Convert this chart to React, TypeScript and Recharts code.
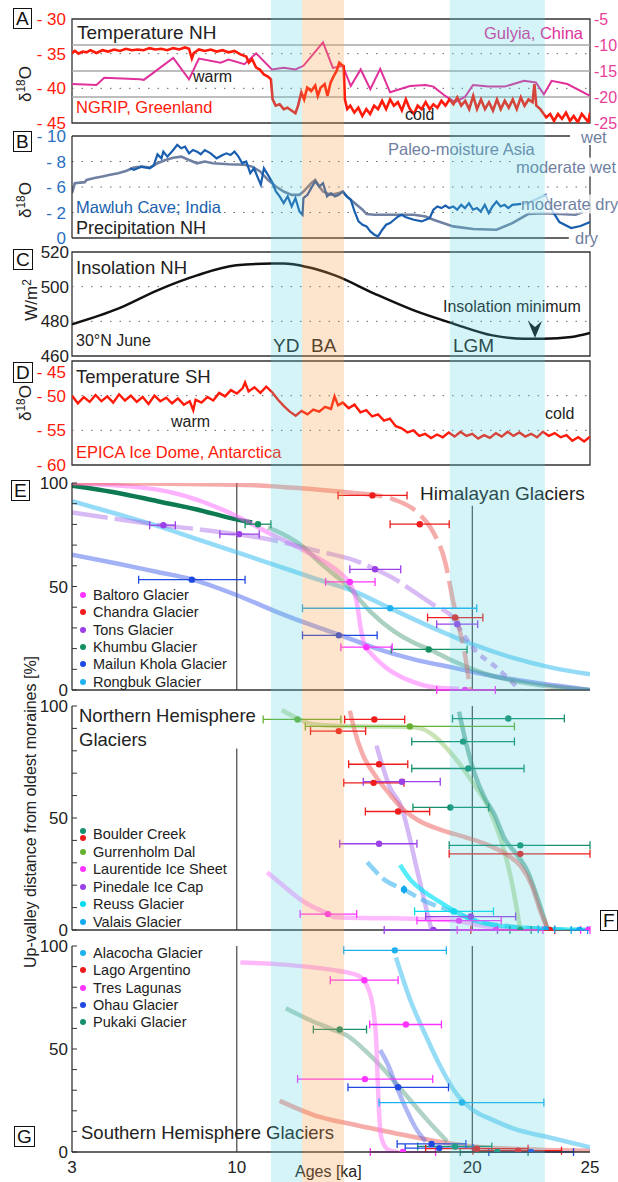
import React from 'react';
import {
  ComposedChart,
  Line,
  Scatter,
  ErrorBar,
  XAxis,
  YAxis,
  ReferenceLine,
  ReferenceArea,
} from 'recharts';

type Pt = [number, number];
type EPt = [number, number, number, number]; // age, value, age low, age high

const FONT = '"Liberation Sans", Arial, Helvetica, sans-serif';
const W = 618;
const LEFT = 72;
const RIGHT = 28;
const X_DOMAIN: [number, number] = [3, 25];
const X_TICKS = [3, 10, 20, 25];
const PCT_TICKS = [0, 10, 20, 30, 40, 50, 60, 70, 80, 90, 100];

// climate periods, ka
const BANDS = [
  { name: 'YD', from: 11.45, to: 12.77 },
  { name: 'BA', from: 12.77, to: 14.55 },
  { name: 'LGM', from: 19.05, to: 23.08 },
];

// A: NGRIP d18O (left) and Guliya d18O (right)
const A_LEFT_TICKS = [-45, -40, -35, -30];
const A_RIGHT_TICKS = [-25, -20, -15, -10, -5];
const NGRIP: Pt[] = [
  [3.0, -34.9], [3.12, -34.6], [3.28, -35.0], [3.45, -34.7], [3.62, -34.8], [3.78, -34.5], [4.04, -34.9],
  [4.29, -34.5], [4.54, -34.7], [4.79, -34.4], [5.04, -34.6], [5.29, -34.3], [5.54, -34.5], [5.79, -34.4],
  [6.04, -34.5], [6.29, -34.2], [6.54, -34.4], [6.79, -34.3], [7.04, -34.5], [7.3, -34.2], [7.55, -34.4],
  [7.8, -34.1], [7.97, -34.3], [8.09, -35.7], [8.17, -34.9], [8.39, -34.4], [8.64, -34.6], [8.89, -34.4],
  [9.14, -34.7], [9.39, -34.5], [9.65, -34.8], [9.9, -34.6], [10.15, -35.1], [10.4, -35.4], [10.51, -36.3],
  [10.65, -35.8], [10.82, -37.0], [10.98, -37.3], [11.15, -38.0], [11.32, -38.3], [11.45, -38.7], [11.52, -41.6],
  [11.65, -42.5], [11.82, -42.3], [11.99, -43.0], [12.15, -42.8], [12.32, -43.2], [12.49, -43.6], [12.6, -42.5],
  [12.74, -40.6], [12.86, -41.6], [12.99, -39.9], [13.16, -40.4], [13.33, -39.6], [13.44, -41.1], [13.56, -39.9],
  [13.73, -39.4], [13.85, -41.1], [13.98, -39.2], [14.12, -38.2], [14.24, -37.5], [14.35, -36.3], [14.45, -36.6],
  [14.54, -36.8], [14.59, -41.6], [14.69, -43.0], [14.82, -42.5], [14.99, -43.5], [15.16, -42.8], [15.33, -44.0],
  [15.5, -43.0], [15.66, -43.7], [15.83, -42.5], [16.0, -43.0], [16.17, -41.8], [16.34, -43.0], [16.51, -41.6],
  [16.67, -42.5], [16.84, -42.0], [17.01, -43.2], [17.18, -41.6], [17.35, -43.0], [17.52, -43.7], [17.68, -42.5],
  [17.85, -43.0], [18.02, -42.0], [18.19, -43.0], [18.35, -42.3], [18.52, -42.8], [18.69, -41.8], [18.86, -42.5],
  [19.03, -41.6], [19.2, -42.3], [19.36, -41.3], [19.53, -42.5], [19.7, -41.8], [19.87, -43.0], [20.04, -41.1],
  [20.2, -43.0], [20.37, -41.6], [20.54, -43.0], [20.71, -42.0], [20.88, -43.2], [21.05, -41.6], [21.21, -43.0],
  [21.38, -41.8], [21.55, -42.8], [21.72, -41.6], [21.89, -43.0], [22.06, -41.3], [22.22, -42.5], [22.39, -41.6],
  [22.56, -42.0], [22.64, -39.4], [22.72, -42.5], [22.89, -43.0], [23.14, -44.2], [23.31, -43.7], [23.47, -44.7],
  [23.64, -43.7], [23.81, -44.4], [23.98, -43.5], [24.15, -44.7], [24.31, -44.0], [24.48, -44.9], [24.65, -43.7],
  [24.82, -44.4], [24.93, -44.9], [25.0, -43.5],
];
const GULIYA: Pt[] = [
  [3.0, -17.5], [4.04, -17.7], [4.37, -16.3], [5.88, -16.6], [6.05, -16.7], [7.3, -12.5], [7.97, -16.6],
  [8.39, -12.6], [9.31, -13.4], [9.65, -12.8], [10.32, -13.7], [10.82, -11.6], [11.49, -14.7], [11.99, -14.4],
  [12.49, -14.7], [12.83, -14.0], [13.66, -9.5], [14.08, -14.4], [14.5, -14.0], [14.84, -17.9], [15.26, -14.7],
  [15.67, -18.5], [16.09, -14.6], [16.51, -19.1], [17.35, -17.9], [18.02, -17.7], [18.35, -18.0], [18.85, -19.8],
  [19.27, -21.0], [19.69, -20.0], [20.03, -17.7], [20.7, -18.0], [21.37, -18.0], [22.2, -16.9], [22.7, -17.2],
  [23.04, -19.5], [23.37, -16.9], [24.04, -17.5], [25.0, -19.8],
];

// B: Mawluh Cave d18O and Asian paleo-moisture, printed ticks are evenly spaced
const B_TICK_VALUES = [0, -2, -6, -8, -10];
const B_TICK_LABELS = ['0', '- 2', '- 6', '- 8', '- 10'];
const MAWLUH: Pt[] = [
  [5.46, -7.47], [5.63, -7.34], [5.96, -7.6], [6.3, -7.47], [6.47, -7.68], [6.63, -8.56], [6.8, -8.25],
  [6.88, -8.77], [7.05, -8.38], [7.3, -8.9], [7.47, -9.3], [7.64, -9.04], [7.8, -9.17], [7.97, -8.64],
  [8.14, -8.9], [8.31, -8.77], [8.47, -8.57], [8.64, -8.9], [8.89, -8.64], [9.14, -8.25], [9.4, -8.51],
  [9.56, -8.64], [9.73, -8.51], [9.9, -8.77], [10.07, -8.38], [10.23, -7.86], [10.4, -8.0], [10.57, -7.08],
  [10.73, -7.47], [10.9, -6.69], [11.02, -6.17], [11.15, -7.47], [11.32, -6.95], [11.49, -6.43], [11.66, -5.29],
  [11.82, -4.52], [11.99, -3.48], [12.16, -4.52], [12.33, -2.95], [12.49, -4.26], [12.66, -2.16], [12.79, -1.82],
  [12.83, -4.26], [13.0, -4.77], [13.16, -5.82], [13.33, -6.43], [13.5, -6.04], [13.66, -6.3], [13.83, -4.52],
  [14.0, -5.04], [14.17, -4.52], [14.33, -4.77], [14.5, -5.29], [14.67, -4.52], [14.84, -4.0], [15.0, -2.16],
  [15.17, -1.3], [15.34, -1.04], [15.51, -0.91], [15.67, -0.52], [15.84, -0.26], [16.0, -0.13], [16.18, -0.65],
  [16.34, -1.04], [16.51, -1.17], [16.68, -1.43], [16.85, -1.69], [17.01, -1.82], [17.18, -1.62], [17.52, -1.43],
  [17.85, -1.3], [18.19, -1.56], [18.35, -2.44], [18.52, -2.95], [18.69, -2.69], [18.86, -3.1], [19.02, -2.69],
  [19.19, -2.95], [19.36, -2.44], [19.53, -3.2], [19.69, -2.69], [19.86, -3.48], [20.03, -2.44], [20.2, -2.69],
  [20.36, -2.16], [20.53, -3.2], [20.7, -1.95], [20.86, -2.95], [21.03, -3.72], [21.2, -2.95], [21.37, -3.2],
  [21.53, -2.69], [21.7, -3.2], [22.37, -3.48], [23.12, -4.77], [23.37, -2.44], [23.7, -1.25], [24.2, -0.78],
  [24.6, -0.94], [25.0, -1.25],
];
const PALEO_MOISTURE: Pt[] = [
  [3.0, -5.04], [3.12, -6.3], [3.54, -6.38], [3.62, -6.56], [3.95, -6.7], [4.29, -6.82], [4.62, -6.96],
  [4.96, -7.08], [5.29, -7.26], [5.63, -7.52], [5.96, -7.6], [6.3, -7.52], [6.63, -7.86], [6.97, -8.12],
  [7.3, -8.3], [7.64, -8.38], [7.97, -8.12], [8.31, -7.86], [8.64, -8.0], [8.98, -7.86], [9.65, -7.78],
  [10.32, -7.74], [10.65, -7.6], [10.99, -7.22], [11.32, -6.56], [11.66, -6.04], [11.99, -5.29], [12.33, -4.77],
  [12.66, -4.77], [12.83, -5.29], [13.16, -6.3], [13.33, -6.56], [13.5, -6.04], [13.66, -5.29], [14.0, -4.77],
  [14.33, -5.04], [14.5, -5.29], [14.67, -4.52], [15.0, -3.48], [15.34, -2.44], [15.51, -1.88], [15.84, -1.82],
  [16.68, -1.82], [17.52, -1.82], [18.02, -1.69], [18.35, -1.43], [19.19, -0.91], [20.03, -0.7], [21.03, -0.65],
  [21.7, -1.17], [22.37, -1.88], [23.04, -1.95], [23.71, -1.88], [24.38, -1.82], [24.71, -2.08],
];

// C: June insolation 30N, W/m2
const C_TICKS = [460, 480, 500, 520];
const INSOLATION: Pt[] = [
  [3, 478.3], [4.96, 487.3], [6.63, 497.9], [8.31, 506.5], [9.98, 512.3], [11.49, 513.3], [11.99, 513.3],
  [12.99, 511.3], [14.17, 506.5], [15.84, 496], [17.52, 486.3], [19.19, 478.7], [20.86, 471.9], [22.2, 470],
  [23.04, 470], [24.21, 471], [25, 473.3],
];

// D: EPICA Dome C d18O
const D_TICKS = [-60, -55, -50, -45];
const EPICA: Pt[] = [
  [3.0, -50.0], [3.25, -51.1], [3.5, -50.2], [3.75, -50.9], [4.0, -49.9], [4.25, -50.8], [4.5, -50.1],
  [4.75, -51.0], [5.0, -49.8], [5.25, -50.7], [5.5, -50.0], [5.75, -50.9], [6.0, -50.2], [6.25, -51.2],
  [6.5, -50.0], [6.75, -50.8], [7.0, -50.3], [7.25, -51.1], [7.5, -50.4], [7.75, -51.3], [8.0, -50.8],
  [8.15, -52.1], [8.25, -50.6], [8.5, -51.0], [8.75, -50.2], [9.0, -50.7], [9.25, -49.6], [9.5, -50.1],
  [9.75, -49.2], [10.0, -49.7], [10.25, -48.9], [10.35, -48.1], [10.5, -49.4], [10.75, -48.8], [11.0, -49.6],
  [11.25, -48.7], [11.5, -49.5], [11.75, -50.6], [12.0, -51.5], [12.25, -52.3], [12.5, -52.9], [12.75, -52.2],
  [13.0, -52.7], [13.25, -52.0], [13.5, -52.3], [13.75, -51.6], [14.0, -51.9], [14.15, -50.1], [14.3, -51.4],
  [14.5, -51.0], [14.75, -51.8], [15.0, -51.3], [15.25, -52.4], [15.5, -52.1], [15.75, -53.0], [16.0, -52.7],
  [16.25, -53.6], [16.5, -53.3], [16.75, -54.4], [17.0, -54.7], [17.25, -55.3], [17.5, -55.0], [17.75, -55.8],
  [18.0, -55.5], [18.25, -56.1], [18.5, -55.6], [18.75, -56.0], [19.0, -55.3], [19.25, -55.9], [19.5, -55.2],
  [19.75, -55.8], [20.0, -55.5], [20.25, -56.2], [20.5, -55.7], [20.75, -56.1], [21.0, -55.4], [21.25, -55.9],
  [21.5, -55.2], [21.75, -55.8], [22.0, -55.3], [22.25, -55.9], [22.5, -55.5], [22.75, -56.0], [23.0, -55.2],
  [23.25, -55.8], [23.5, -55.4], [23.75, -56.0], [24.0, -55.7], [24.25, -56.5], [24.5, -56.0], [24.75, -56.6],
  [25.0, -55.9],
];

// E: Himalayan glaciers, up-valley distance %
const CHANDRA_LINE: Pt[] = [[3, 100], [9.98, 99.2], [15.0, 95.2]];
const CHANDRA_LINE_LATE: Pt[] = [[15.0, 95.2], [15.67, 94.4], [16.68, 92], [17.68, 85.7], [18.35, 76.1], [18.85, 61.8], [19.19, 42.7], [19.44, 29.9], [19.69, 17.2], [19.86, 4.5], [19.94, 0]];
const BALTORO_LINE: Pt[] = [[3, 100], [6.63, 96.8], [9.98, 84.1], [11.32, 76.1], [12.99, 66.6], [14.33, 57.0], [14.75, 52.2], [15.09, 42.7], [15.26, 29.9], [15.42, 22.0], [15.67, 18.0], [16.34, 10.8], [17.35, 4.5], [18.35, 1.3], [19.44, 0.5]];
const TONS_LINE: Pt[] = [[3, 85.7], [4.96, 82.5], [6.8, 79.6], [8.31, 77.7], [9.98, 75.3], [11.66, 72.1], [13.33, 67.4], [15.0, 62.6], [15.84, 58.6], [16.68, 53.8], [17.52, 47.5], [18.35, 41.1], [19.19, 34.7], [19.36, 31.5]];
const TONS_TAIL: Pt[] = [[19.36, 31.5], [20.03, 20.4], [21.03, 10.8], [22.04, 0]];
const KHUMBU_OLD: Pt[] = [[3, 98.7], [4.96, 95.2], [6.63, 91.2], [8.31, 87.2], [9.65, 83.3], [10.65, 80.9]];
const KHUMBU_LINE: Pt[] = [[11.32, 78.5], [11.66, 76.9], [12.66, 70.5], [13.66, 60.2], [14.67, 50.6], [15.67, 37.9], [16.68, 28.3], [17.52, 22.8], [18.19, 19.6], [19.19, 14.0], [20.86, 6.8], [22.54, 2.9], [25, 0]];
const MAILUN_LINE: Pt[] = [[3, 65.3], [4.96, 61.0], [6.63, 57.0], [7.97, 53.8], [9.98, 45.9], [11.66, 37.9], [13.33, 30.7], [14.33, 26.8], [15.84, 20.4], [17.52, 14.8], [19.19, 10.8], [20.86, 6.8], [22.54, 3.7], [25, 0]];
const RONGBUK_LINE: Pt[] = [[3, 91.2], [4.96, 84.9], [6.63, 79.3], [8.31, 72.9], [9.98, 66.6], [11.66, 60.2], [13.33, 53.8], [15.0, 47.5], [16.51, 39.5], [18.35, 29.9], [20.03, 22.0], [21.7, 15.6], [23.37, 10.8], [25, 7.6]];
const CHANDRA_PTS: EPt[] = [[15.76, 94.0, 14.3, 17.23], [17.77, 80.1, 16.51, 19.02], [19.27, 35.0, 18.1, 20.45]];
const BALTORO_PTS: EPt[] = [[14.8, 52.2, 13.77, 15.87], [15.5, 20.7, 14.42, 16.6], [19.69, 0, 18.49, 20.98]];
const TONS_PTS: EPt[] = [[6.88, 79.6, 6.3, 7.39], [10.1, 75.3, 9.28, 10.95], [15.87, 58.3, 14.8, 16.96], [19.36, 31.8, 18.49, 20.23]];
const KHUMBU_PTS: EPt[] = [[10.9, 80.1, 10.35, 11.45], [18.15, 19.6, 16.56, 19.78]];
const MAILUN_PTS: EPt[] = [[8.09, 53.3, 5.83, 10.35], [14.33, 26.4, 12.79, 15.96]];
const RONGBUK_PTS: EPt[] = [[16.51, 39.5, 12.79, 20.19]];

// F: Northern Hemisphere glaciers
const GURRENHOLM_LINE: Pt[] = [[11.91, 98.2], [12.49, 94.9], [13.16, 92.1], [14.17, 91.2], [15.84, 90.9], [17.35, 90.6], [17.85, 89.9], [18.35, 86.9], [19.19, 77.8], [20.03, 65.7], [20.7, 54.4], [21.2, 40.8], [21.62, 24.2], [21.87, 10.6], [22.04, 0]];
const BOULDER_RED_LINE: Pt[] = [[14.8, 97.9], [15.0, 89.1], [15.34, 78.5], [15.84, 69.5], [16.51, 60.4], [17.01, 54.4], [17.68, 49.1], [18.69, 44.6], [19.69, 41.5], [20.7, 37.8], [21.53, 33.2], [22.04, 28.7], [22.54, 19.6], [22.87, 9.1], [23.21, 0]];
const BOULDER_GREEN_LINE: Pt[] = [[19.44, 97.4], [19.78, 81.6], [20.11, 69.5], [20.53, 58.9], [20.95, 51.4], [21.37, 40.8], [21.87, 34.0], [22.37, 25.7], [22.79, 13.6], [23.21, 0]];
const PINEDALE_LINE: Pt[] = [[15.93, 82.3], [16.51, 63.4], [17.01, 54.4], [17.35, 40.8], [17.68, 25.7], [18.02, 10.6], [18.27, 0]];
const LAURENTIDE_LINE: Pt[] = [[11.29, 25.7], [11.99, 19.6], [12.66, 13.9], [13.33, 9.8], [13.83, 7.6], [14.17, 5.7], [15.84, 5.3], [17.52, 5.0], [19.19, 4.2], [20.03, 2.7], [21.03, 0.8], [21.7, 0]];
const VALAIS_LINE: Pt[] = [[15.54, 30.2], [16.34, 21.9], [17.1, 18.1], [17.85, 13.6], [18.52, 10.6], [19.19, 8.3], [20.03, 4.5], [21.7, 1.5], [23.37, 0.3], [25, 0]];
const REUSS_LINE: Pt[] = [[16.93, 29.0], [17.35, 22.7], [18.02, 16.6], [18.69, 12.1], [19.19, 8.8], [20.03, 4.5], [20.86, 2.3], [22.54, 0.8], [25, 0]];
const GURRENHOLM_PTS: EPt[] = [[12.58, 94.0, 11.12, 14.42], [17.35, 90.9, 12.91, 21.79]];
const BOULDER_RED_PTS: EPt[] = [[15.84, 94.0, 14.58, 17.13], [14.33, 88.8, 13.13, 15.47], [16.04, 74.0, 14.75, 17.26], [15.81, 65.7, 14.54, 17.1], [16.85, 52.9, 15.46, 18.19], [22.04, 34.0, 19.02, 25], [23.29, 0, 19.94, 23.5]];
const BOULDER_GREEN_PTS: EPt[] = [[21.53, 94.4, 19.16, 23.91], [19.61, 84.1, 17.43, 21.79], [19.83, 72.1, 17.43, 22.2], [19.07, 54.7, 17.48, 20.7], [22.04, 37.8, 19.02, 25], [22.04, 0, 21.6, 22.5]];
const PINEDALE_PTS: EPt[] = [[17.01, 66.2, 15.37, 18.64], [16.04, 38.5, 14.37, 17.65], [19.94, 6.0, 18.02, 21.84], [18.35, 0, 16.26, 21.07]];
const LAURENTIDE_PTS: EPt[] = [[13.87, 7.1, 12.69, 15.09], [19.44, 4.2, 17.65, 21.23], [21.0, 0, 19.36, 23.0], [24.93, 0, 24.6, 25]];
const REUSS_PTS: EPt[] = [[19.22, 8.3, 17.55, 20.9]];
const VALAIS_PTS: EPt[] = [[17.1, 18.1, 17.1, 17.1], [23.12, 0.3, 22.8, 23.5], [24.55, 0, 24.2, 24.9]];

// G: Southern Hemisphere glaciers
const ALACOCHA_LINE: Pt[] = [[16.76, 94.4], [17.35, 74.3], [18.02, 56.6], [18.69, 40.5], [19.36, 27.7], [20.03, 20.4], [20.86, 15.6], [21.7, 11.6], [23.37, 6.8], [25, 2.3]];
const TRES_LINE: Pt[] = [[10.15, 92.0], [11.66, 91.2], [13.33, 89.5], [14.33, 87.9], [15.17, 85.5], [15.59, 79.1], [15.81, 67.8], [15.93, 51.8], [15.98, 35.7], [16.04, 19.6], [16.14, 6.8], [16.43, 1.1], [16.85, 0]];
const PUKAKI_LINE: Pt[] = [[12.08, 69.8], [13.0, 64.6], [14.0, 59.8], [14.67, 56.6], [15.51, 48.6], [16.34, 38.9], [17.18, 27.7], [18.02, 16.4], [18.94, 5.1]];
const OHAU_LINE: Pt[] = [[16.09, 49.4], [16.43, 42.1], [16.76, 32.5], [17.18, 21.2], [17.6, 11.6], [18.02, 5.1]];
const LAGO_LINE: Pt[] = [[11.82, 24.8], [13.33, 17.7], [15.0, 13.2], [16.68, 9.2], [18.35, 5.5], [20.03, 2.7], [21.7, 1.6], [25, 0.6]];
const ALACOCHA_PTS: EPt[] = [[16.71, 97.9, 14.54, 18.9], [19.56, 24.0, 16.04, 23.04]];
const LAGO_PTS: EPt[] = [[20.2, 1.6, 18.02, 22.37], [21.95, 0.6, 20.03, 23.79]];
const TRES_PTS: EPt[] = [[15.42, 83.4, 13.97, 16.85], [17.18, 61.9, 15.64, 18.69], [15.44, 35.4, 12.58, 18.32], [17.05, 0, 15.67, 18.44]];
const OHAU_PTS: EPt[] = [[16.85, 31.4, 14.72, 18.99], [18.27, 3.9, 16.81, 19.73], [18.6, 1.9, 17.15, 20.03], [22.5, 0, 20.7, 24.3]];
const PUKAKI_PTS: EPt[] = [[14.37, 59.5, 13.25, 15.51], [19.27, 2.7, 17.68, 20.83], [21.06, 0, 19.49, 22.37]];

const E_NAMES = ['Baltoro Glacier', 'Chandra Glacier', 'Tons Glacier', 'Khumbu Glacier', 'Mailun Khola Glacier', 'Rongbuk Glacier'];
const F_NAMES = ['Boulder Creek', 'Gurrenholm Dal', 'Laurentide Ice Sheet', 'Pinedale Ice Cap', 'Reuss Glacier', 'Valais Glacier'];
const G_NAMES = ['Alacocha Glacier', 'Lago Argentino', 'Tres Lagunas', 'Ohau Glacier', 'Pukaki Glacier'];

// colours
const RED = '#ff1a0a';
const C_RED = '#ee1c1c';
const C_MAG = '#ff33ff';
const C_PURPLE = '#9b40e8';
const C_GREEN = '#139060';
const C_BLUE = '#1f48e0';
const C_SKY = '#1fb0f0';
const C_LIME = '#66b030';
const C_CYAN = '#00dcee';
const BAND_STYLE: Record<string, { fill: string; op: number }> = {
  YD: { fill: '#4fd0dd', op: 0.24 },
  BA: { fill: '#f59a45', op: 0.27 },
  LGM: { fill: '#4fd0dd', op: 0.24 },
};

const rows = (pts: Pt[]) => pts.map(([x, y]) => ({ x, y }));
const errRows = (pts: EPt[]) => pts.map(([x, y, lo, hi]) => ({ x, y, err: [x - lo, hi - x] }));

const bPos = (v: number) => {
  for (let i = 0; i < B_TICK_VALUES.length - 1; i++) {
    const a = B_TICK_VALUES[i];
    const b = B_TICK_VALUES[i + 1];
    if (v <= a && v >= b) return i + (a - v) / (a - b);
  }
  return v > 0 ? 0 : B_TICK_VALUES.length - 1;
};
const bRows = (pts: Pt[]) => pts.map(([x, v]) => ({ x, y: bPos(v) }));

type LineSpec = { pts: Pt[]; color: string; width?: number; opacity?: number; dash?: string };
type PtsSpec = { pts: EPt[]; color: string };
type VLine = { x: number; from: number; to: number };

function Txt({ x, y, size = 16, color = '#222', bg, children }: any) {
  return (
    <div
      style={{
        position: 'absolute', left: x, top: y, transform: 'translateY(-50%)', fontSize: size, color,
        whiteSpace: 'nowrap', lineHeight: 1.15, background: bg, fontFamily: FONT,
      }}
    >
      {children}
    </div>
  );
}

function VTxt({ x, y, size = 17, children }: any) {
  return (
    <div
      style={{
        position: 'absolute', left: x, top: y, transform: 'translate(-50%,-50%) rotate(-90deg)',
        fontSize: size, color: '#222', whiteSpace: 'nowrap', lineHeight: 1, fontFamily: FONT,
      }}
    >
      {children}
    </div>
  );
}

function Letter({ x, y, children }: any) {
  return (
    <div
      style={{
        position: 'absolute', left: x, top: y, border: '1.6px solid #111', fontSize: 19, lineHeight: '19px',
        padding: '0 2px', color: '#111', background: '#fff', fontFamily: FONT,
      }}
    >
      {children}
    </div>
  );
}

function Legend({ x, y, step, items }: { x: number; y: number; step: number; items: { label: string; colors: string[] }[] }) {
  return (
    <>
      {items.map((it, i) => (
        <div key={it.label} style={{ position: 'absolute', left: x, top: y + i * step, transform: 'translateY(-50%)', display: 'flex', alignItems: 'center', fontSize: 14.5, color: '#222', whiteSpace: 'nowrap', fontFamily: FONT }}>
          <span style={{ display: 'inline-flex', flexDirection: 'column', width: 8, marginRight: 5 }}>
            {it.colors.map((c) => (
              <span key={c} style={{ width: 6, height: 6, borderRadius: 3, background: c, display: 'block', margin: '0.5px 0' }} />
            ))}
          </span>
          {it.label}
        </div>
      ))}
    </>
  );
}

const tickStyle = (fill: string, fontSize = 16) => ({ fill, fontSize, fontFamily: FONT });

function hiddenX() {
  return <XAxis type="number" dataKey="x" domain={X_DOMAIN} hide allowDataOverflow />;
}

function PanelA() {
  return (
    <div style={{ position: 'absolute', left: 0, top: 0 }}>
      <ComposedChart width={W} height={140} margin={{ top: 19, right: 0, bottom: 17, left: 0 }}>
        {hiddenX()}
        <YAxis yAxisId="l" width={LEFT} type="number" domain={[-45, -30]} ticks={A_LEFT_TICKS} interval={0}
          tickFormatter={(v: number) => `- ${Math.abs(v)}`} axisLine={false} tickLine={false} tickSize={0} tickMargin={6}
          tick={tickStyle(RED, 17)} allowDataOverflow />
        <YAxis yAxisId="r" orientation="right" width={RIGHT} type="number" domain={[-25, -5]} ticks={A_RIGHT_TICKS} interval={0}
          axisLine={false} tickLine={false} tickSize={0} tickMargin={4} tick={tickStyle('#e8409a', 16)} allowDataOverflow />
        {[-10, -15, -20].map((v) => (
          <ReferenceLine key={v} yAxisId="r" y={v} stroke="#a8a8a8" strokeWidth={1.3} />
        ))}
        {[-35, -40].map((v) => (
          <ReferenceLine key={v} yAxisId="l" y={v} stroke="#666" strokeDasharray="1.5 8" />
        ))}
        <Line yAxisId="r" data={rows(GULIYA)} dataKey="y" type="linear" stroke="#e0309a" strokeWidth={2}
          dot={false} activeDot={false} isAnimationActive={false} />
        <Line yAxisId="l" data={rows(NGRIP)} dataKey="y" type="linear" stroke={RED} strokeWidth={2.6}
          dot={false} activeDot={false} isAnimationActive={false} />
        <ReferenceArea yAxisId="l" x1={X_DOMAIN[0]} x2={X_DOMAIN[1]} y1={-45} y2={-30} fill="none" stroke="#333" strokeWidth={1.3} />
      </ComposedChart>
    </div>
  );
}

function PanelB() {
  const top = B_TICK_VALUES.length - 1;
  return (
    <div style={{ position: 'absolute', left: 0, top: 126 }}>
      <ComposedChart width={W} height={124} margin={{ top: 10, right: RIGHT, bottom: 12, left: 0 }}>
        {hiddenX()}
        <YAxis width={LEFT} type="number" domain={[0, top]} ticks={B_TICK_VALUES.map((_, i) => i)} interval={0}
          tickFormatter={(v: number) => B_TICK_LABELS[v]} axisLine={{ stroke: '#333', strokeWidth: 1.3 }} tickLine={false}
          tickSize={0} tickMargin={6} tick={tickStyle('#2a6fc0', 17)} allowDataOverflow />
        {[1, 2, 3].map((v) => (
          <ReferenceLine key={v} y={v} stroke="#666" strokeDasharray="1.5 8" />
        ))}
        <ReferenceLine segment={[{ x: 3, y: top }, { x: 24.15, y: top }]} stroke="#333" strokeWidth={1.3} />
        <ReferenceLine segment={[{ x: 3, y: 0 }, { x: 24.1, y: 0 }]} stroke="#333" strokeWidth={1.3} />
        <ReferenceLine segment={[{ x: 25, y: 3.65 }, { x: 25, y: 0.12 }]} stroke="#333" strokeWidth={1.3} />
        <Line data={bRows(PALEO_MOISTURE)} dataKey="y" type="linear" stroke="#6f80a2" strokeWidth={2.6}
          dot={false} activeDot={false} isAnimationActive={false} />
        <Line data={bRows(MAWLUH)} dataKey="y" type="linear" stroke="#1a5faf" strokeWidth={2.2}
          dot={false} activeDot={false} isAnimationActive={false} />
      </ComposedChart>
    </div>
  );
}

function PanelC() {
  return (
    <div style={{ position: 'absolute', left: 0, top: 238 }}>
      <ComposedChart width={W} height={128} margin={{ top: 14, right: RIGHT, bottom: 10, left: 0 }}>
        {hiddenX()}
        <YAxis width={LEFT} type="number" domain={[460, 520]} ticks={C_TICKS} interval={0} axisLine={false}
          tickLine={false} tickSize={0} tickMargin={3} tick={tickStyle('#222', 17)} allowDataOverflow />
        {[480, 500].map((v) => (
          <ReferenceLine key={v} y={v} stroke="#666" strokeDasharray="1.5 8" />
        ))}
        <Line data={rows(INSOLATION)} dataKey="y" type="monotone" stroke="#111" strokeWidth={2.5}
          dot={false} activeDot={false} isAnimationActive={false} />
        <ReferenceArea x1={X_DOMAIN[0]} x2={X_DOMAIN[1]} y1={460} y2={520} fill="none" stroke="#333" strokeWidth={1.3} />
      </ComposedChart>
    </div>
  );
}

// the printed "- 45" sits a little below the frame top
function DTick(p: any) {
  const v = p.payload.value;
  return (
    <text x={p.x} y={p.y + (v === -45 ? 11 : 0)} dy="0.355em" textAnchor="end" fill={RED} fontSize={17} fontFamily={FONT}>
      {`- ${Math.abs(v)}`}
    </text>
  );
}

function PanelD() {
  return (
    <div style={{ position: 'absolute', left: 0, top: 355 }}>
      <ComposedChart width={W} height={126} margin={{ top: 6, right: RIGHT, bottom: 16, left: 0 }}>
        {hiddenX()}
        <YAxis width={LEFT} type="number" domain={[-60, -45]} ticks={D_TICKS} interval={0}
          axisLine={false} tickLine={false} tickSize={0} tickMargin={6} tick={DTick} allowDataOverflow />
        {[-50, -55].map((v) => (
          <ReferenceLine key={v} y={v} stroke="#666" strokeDasharray="1.5 8" />
        ))}
        <Line data={rows(EPICA)} dataKey="y" type="linear" stroke={RED} strokeWidth={2.4}
          dot={false} activeDot={false} isAnimationActive={false} />
        <ReferenceArea x1={X_DOMAIN[0]} x2={X_DOMAIN[1]} y1={-60} y2={-45} fill="none" stroke="#333" strokeWidth={1.3} />
      </ComposedChart>
    </div>
  );
}

function GlacierPanel({ top, height, mt, mb, lines, points, vlines, showX }: {
  top: number; height: number; mt: number; mb: number; lines: LineSpec[]; points: PtsSpec[]; vlines: VLine[]; showX?: boolean;
}) {
  return (
    <div style={{ position: 'absolute', left: 0, top }}>
      <ComposedChart width={W} height={height} margin={{ top: mt, right: RIGHT, bottom: mb, left: 0 }}>
        <XAxis type="number" dataKey="x" domain={X_DOMAIN} ticks={X_TICKS} interval={0} allowDataOverflow hide={!showX}
          height={30} tickSize={0} tickMargin={9} tickLine={false} axisLine={{ stroke: '#333', strokeWidth: 1.3 }}
          tick={tickStyle('#222', 17)} />
        <YAxis width={LEFT} type="number" domain={[0, 100]} ticks={PCT_TICKS} interval={0}
          tickFormatter={(v: number) => (v % 50 === 0 ? String(v) : '')} tickSize={-5} tickMargin={9}
          axisLine={{ stroke: '#333', strokeWidth: 1.3 }} tickLine={{ stroke: '#333' }} tick={tickStyle('#222', 17)} allowDataOverflow />
        {!showX && <ReferenceLine y={0} stroke="#333" strokeWidth={1.3} />}
        {vlines.map((v, i) => (
          <ReferenceLine key={i} segment={[{ x: v.x, y: v.from }, { x: v.x, y: v.to }]} stroke="#222" strokeWidth={1} />
        ))}
        {lines.map((l, i) => (
          <Line key={'l' + i} data={rows(l.pts)} dataKey="y" type="monotone" stroke={l.color}
            strokeWidth={l.width ?? 4.5} strokeOpacity={l.opacity ?? 0.5} strokeDasharray={l.dash}
            dot={false} activeDot={false} isAnimationActive={false} />
        ))}
        {points.map((p, i) => (
          <Scatter key={'p' + i} data={errRows(p.pts)} dataKey="y" fill={p.color} isAnimationActive={false}
            shape={(s: any) => <circle cx={s.cx} cy={s.cy} r={3.2} fill={p.color} />}>
            <ErrorBar dataKey="err" direction="x" width={4} stroke={p.color} strokeWidth={1.3} />
          </Scatter>
        ))}
      </ComposedChart>
    </div>
  );
}

// translucent period bands laid over all panels
function Bands() {
  const frame = X_DOMAIN.map((x) => ({ x, y: 0.5 }));
  return (
    <div style={{ position: 'absolute', left: 0, top: 0, pointerEvents: 'none' }}>
      <ComposedChart width={W} height={1182} data={frame} margin={{ top: 0, right: RIGHT, bottom: 0, left: LEFT }}>
        <XAxis type="number" dataKey="x" domain={X_DOMAIN} hide allowDataOverflow />
        <YAxis hide type="number" domain={[0, 1]} allowDataOverflow />
        <Line dataKey="y" stroke="none" dot={false} activeDot={false} isAnimationActive={false} />
        {BANDS.map((b) => (
          <ReferenceArea key={b.name} x1={b.from} x2={b.to} y1={0} y2={1} fill={BAND_STYLE[b.name].fill}
            fillOpacity={BAND_STYLE[b.name].op} stroke="none" ifOverflow="visible" />
        ))}
      </ComposedChart>
    </div>
  );
}

export default function App() {
  const eLines: LineSpec[] = [
    { pts: RONGBUK_LINE, color: '#3cbdf2', opacity: 0.55 },
    { pts: MAILUN_LINE, color: '#3352ea', opacity: 0.45 },
    { pts: TONS_LINE, color: '#a868e6', opacity: 0.45, dash: '36 7' },
    { pts: TONS_TAIL, color: '#a868e6', opacity: 0.55, dash: '7 6' },
    { pts: KHUMBU_LINE, color: '#2a8a62', opacity: 0.4 },
    { pts: KHUMBU_OLD, color: '#0d7a52', opacity: 1 },
    { pts: BALTORO_LINE, color: '#ff66ff', opacity: 0.5 },
    { pts: CHANDRA_LINE, color: '#ee5a55', opacity: 0.5 },
    { pts: CHANDRA_LINE_LATE, color: '#ee5a55', opacity: 0.5, dash: '28 8' },
  ];
  const ePts: PtsSpec[] = [
    { pts: RONGBUK_PTS, color: C_SKY },
    { pts: MAILUN_PTS, color: C_BLUE },
    { pts: KHUMBU_PTS, color: C_GREEN },
    { pts: TONS_PTS, color: C_PURPLE },
    { pts: BALTORO_PTS, color: C_MAG },
    { pts: CHANDRA_PTS, color: C_RED },
  ];
  const fLines: LineSpec[] = [
    { pts: LAURENTIDE_LINE, color: '#ff77ff', opacity: 0.5 },
    { pts: PINEDALE_LINE, color: '#b080ee', opacity: 0.55 },
    { pts: VALAIS_LINE, color: '#3cb4f0', opacity: 0.6, dash: '16 6' },
    { pts: REUSS_LINE, color: '#10e4f6', opacity: 0.7 },
    { pts: GURRENHOLM_LINE, color: '#88c060', opacity: 0.45 },
    { pts: BOULDER_GREEN_LINE, color: '#208870', opacity: 0.5 },
    { pts: BOULDER_RED_LINE, color: '#ee5a55', opacity: 0.5 },
  ];
  const fPts: PtsSpec[] = [
    { pts: GURRENHOLM_PTS, color: C_LIME },
    { pts: BOULDER_GREEN_PTS, color: '#16906e' },
    { pts: BOULDER_RED_PTS, color: C_RED },
    { pts: PINEDALE_PTS, color: C_PURPLE },
    { pts: LAURENTIDE_PTS, color: C_MAG },
    { pts: REUSS_PTS, color: C_CYAN },
    { pts: VALAIS_PTS, color: '#10a8f0' },
  ];
  const gLines: LineSpec[] = [
    { pts: LAGO_LINE, color: '#ee5a55', opacity: 0.5 },
    { pts: PUKAKI_LINE, color: '#3a9070', opacity: 0.4 },
    { pts: OHAU_LINE, color: '#5060e8', opacity: 0.45 },
    { pts: TRES_LINE, color: '#ff80f8', opacity: 0.55 },
    { pts: ALACOCHA_LINE, color: '#40c0f0', opacity: 0.55 },
  ];
  const gPts: PtsSpec[] = [
    { pts: PUKAKI_PTS, color: '#16906e' },
    { pts: OHAU_PTS, color: C_BLUE },
    { pts: TRES_PTS, color: C_MAG },
    { pts: LAGO_PTS, color: C_RED },
    { pts: ALACOCHA_PTS, color: C_SKY },
  ];
  const eColors = [C_MAG, C_RED, C_PURPLE, C_GREEN, C_BLUE, C_SKY];
  const fColors = [['#16906e', C_RED], [C_LIME], [C_MAG], [C_PURPLE], [C_CYAN], ['#10a8f0']];
  const gColors = [C_SKY, C_RED, C_MAG, C_BLUE, '#16906e'];

  return (
    <div style={{ position: 'absolute', left: 0, top: 0, width: W, height: 1182, background: '#fff', overflow: 'hidden', fontFamily: FONT }}>
      <PanelA />
      <PanelB />
      <PanelC />
      <PanelD />
      <GlacierPanel top={468} height={232} mt={15} mb={10} lines={eLines} points={ePts}
        vlines={[{ x: 10, from: 100, to: 0 }, { x: 20, from: 89, to: 0 }]} />
      <GlacierPanel top={692} height={248} mt={14} mb={10} lines={fLines} points={fPts}
        vlines={[{ x: 10, from: 81, to: 0 }, { x: 20, from: 100, to: 0 }]} />
      <GlacierPanel top={932} height={250} mt={14} mb={0} lines={gLines} points={gPts} showX
        vlines={[{ x: 10, from: 100, to: 0 }, { x: 20, from: 100, to: 0 }]} />

      {/* panel A text */}
      <Txt x={77} y={33} size={19}>Temperature NH</Txt>
      <Txt x={484} y={33} size={16.5} color="#e0309a">Gulyia, China</Txt>
      <Txt x={193} y={77} size={16}>warm</Txt>
      <Txt x={76} y={107} size={16.5} color={RED}>NGRIP, Greenland</Txt>
      <Txt x={405} y={115} size={16}>cold</Txt>

      {/* panel B text */}
      <Txt x={388} y={149} size={16.5} color="#6f80a2">Paleo-moisture Asia</Txt>
      <Txt x={76} y={207} size={16.5} color="#1a5faf">Mawluh Cave; India</Txt>
      <Txt x={76} y={228} size={18}>Precipitation NH</Txt>
      <Txt x={581} y={137} size={16.5} color="#6f80a2">wet</Txt>
      <Txt x={516} y={167} size={16.5} color="#6f80a2" bg="rgba(255,255,255,0.9)">moderate wet</Txt>
      <Txt x={521} y={204} size={16.5} color="#6f80a2" bg="rgba(255,255,255,0.75)">moderate dry</Txt>
      <Txt x={575} y={238} size={16.5} color="#6f80a2">dry</Txt>

      {/* panel C text */}
      <Txt x={76} y={268} size={18.5}>Insolation NH</Txt>
      <Txt x={76} y={341} size={16}>30°N June</Txt>
      <Txt x={273} y={346} size={19}>YD</Txt>
      <Txt x={311} y={346} size={19}>BA</Txt>
      <Txt x={453} y={346} size={19}>LGM</Txt>
      <Txt x={443} y={307} size={16}>Insolation minimum</Txt>
      <svg style={{ position: 'absolute', left: 528, top: 321 }} width={14} height={18}>
        <polygon points="0,0 7,6 14,0 7,17" fill="#111" />
      </svg>

      {/* panel D text */}
      <Txt x={76} y={377} size={18.5}>Temperature SH</Txt>
      <Txt x={171} y={422} size={16}>warm</Txt>
      <Txt x={545} y={414} size={16}>cold</Txt>
      <Txt x={76} y={452} size={16.5} color={RED}>EPICA Ice Dome, Antarctica</Txt>

      {/* glacier panels text */}
      <Txt x={420} y={494} size={19}>Himalayan Glaciers</Txt>
      <Txt x={79} y={716} size={18.5} bg="#fff">Northern Hemisphere</Txt>
      <Txt x={79} y={740} size={18.5}>Glaciers</Txt>
      <Txt x={81} y={1133} size={18.5}>Southern Hemisphere Glaciers</Txt>
      <Txt x={295} y={1172} size={16}>Ages [ka]</Txt>

      <Legend x={80} y={595} step={17.3} items={E_NAMES.map((label, i) => ({ label, colors: [eColors[i]] }))} />
      <Legend x={80} y={834} step={17.5} items={F_NAMES.map((label, i) => ({ label, colors: fColors[i] }))} />
      <Legend x={80} y={953} step={17.3} items={G_NAMES.map((label, i) => ({ label, colors: [gColors[i]] }))} />

      {/* axis titles */}
      <VTxt x={25} y={84}>δ<sup style={{ fontSize: '0.7em' }}>18</sup>O</VTxt>
      <VTxt x={25} y={200}>δ<sup style={{ fontSize: '0.7em' }}>18</sup>O</VTxt>
      <VTxt x={31} y={300}>W/m<sup style={{ fontSize: '0.7em' }}>2</sup></VTxt>
      <VTxt x={25} y={403}>δ<sup style={{ fontSize: '0.7em' }}>18</sup>O</VTxt>
      <VTxt x={31} y={812} size={16}>Up-valley distance from oldest moraines [%]</VTxt>

      <Letter x={13} y={8}>A</Letter>
      <Letter x={13} y={131}>B</Letter>
      <Letter x={13} y={249}>C</Letter>
      <Letter x={13} y={362}>D</Letter>
      <Letter x={11} y={480}>E</Letter>
      <Letter x={600} y={910}>F</Letter>
      <Letter x={14} y={1126}>G</Letter>

      <Bands />
    </div>
  );
}
